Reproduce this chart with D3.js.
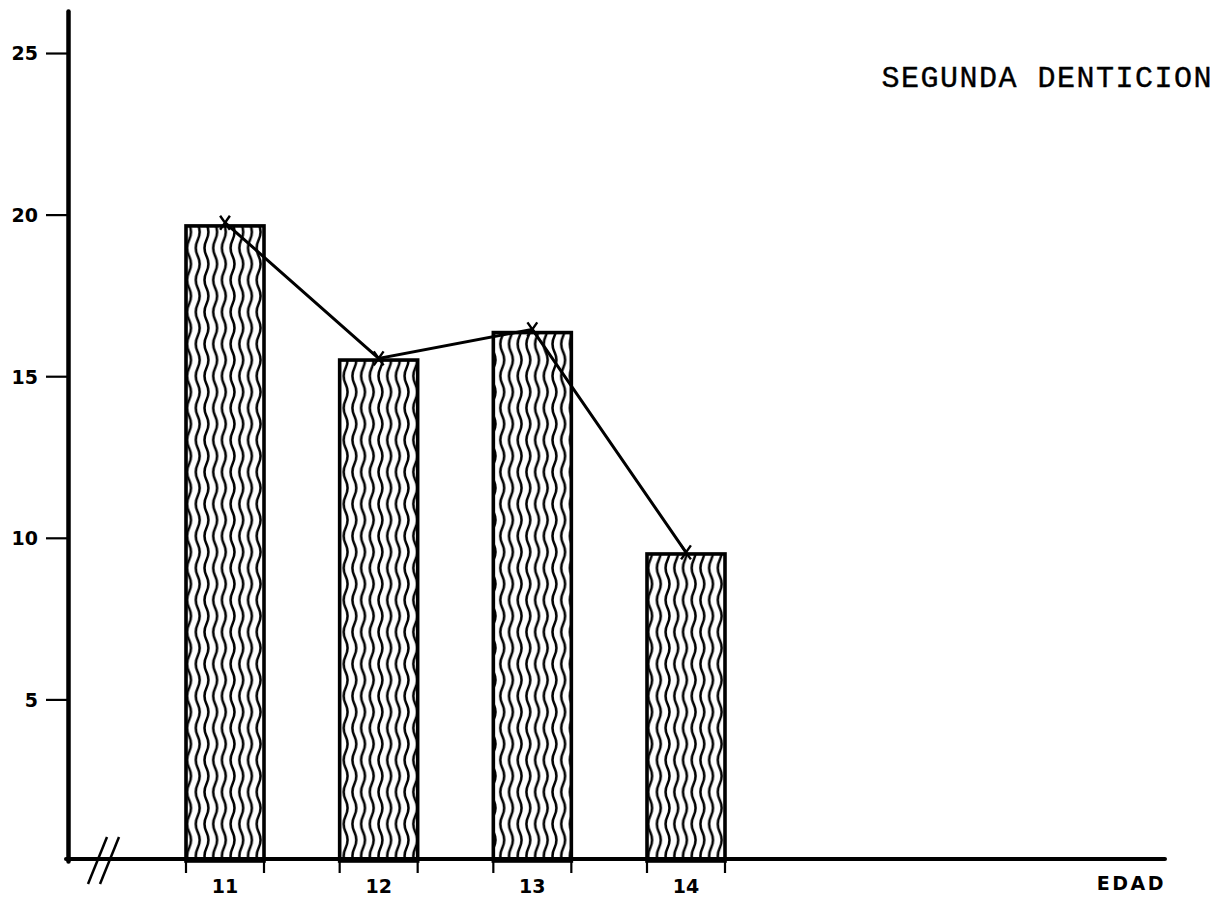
<!doctype html>
<html>
  <head>
    <meta charset="utf-8">
    <title>Segunda denticion</title>
    <script src="https://cdnjs.cloudflare.com/ajax/libs/d3/7.8.5/d3.min.js"></script>
    <style>
      body { margin: 0; background: #fff; }
      .tick text { font-family: "DejaVu Sans", sans-serif; font-weight: bold; }
    </style>
  </head>
  <body>
    <div id="chart"></div>
    <script>
      // data
      const ages = [11, 12, 13, 14];
      const barValues = [19.65, 15.5, 16.35, 9.5];
      const lineValues = [19.75, 15.55, 16.45, 9.55];
      const yTicks = [5, 10, 15, 20, 25];
      const title = 'SEGUNDA DENTICION';
      const xLabel = 'EDAD';

      const W = 1227, H = 897;
      const svg = d3.select('#chart').append('svg')
        .attr('width', W).attr('height', H);

      const y = d3.scaleLinear().domain([0, 26.3]).range([861, 11]);
      const x = d3.scaleLinear().domain([11, 14]).range([225, 686]);
      const barW = 78;
      const axisX = 68;

      // wavy hatch, one wave per tile
      const pw = 8.7, ph = 32, cx0 = pw / 2, a = 2.6;
      let wd = `M${cx0},${-ph}`;
      for (let k = -1; k < 2; k++) {
        const y0 = k * ph;
        wd += `C${cx0 + a},${y0 + ph / 6} ${cx0 + a},${y0 + ph / 3} ${cx0},${y0 + ph / 2}`;
        wd += `C${cx0 - a},${y0 + ph * 2 / 3} ${cx0 - a},${y0 + ph * 5 / 6} ${cx0},${y0 + ph}`;
      }
      const pat = svg.append('defs').append('pattern')
        .attr('id', 'wave')
        .attr('patternUnits', 'userSpaceOnUse')
        .attr('x', 2)
        .attr('width', pw).attr('height', ph);
      pat.append('path')
        .attr('d', wd)
        .attr('fill', 'none').attr('stroke', '#000').attr('stroke-width', 2.5);

      // bars
      svg.selectAll('rect.bar')
        .data(ages)
        .join('rect')
        .attr('class', 'bar')
        .attr('x', d => x(d) - barW / 2)
        .attr('y', (d, i) => y(barValues[i]))
        .attr('width', barW)
        .attr('height', (d, i) => y(0) - y(barValues[i]))
        .attr('fill', 'url(#wave)')
        .attr('stroke', '#000')
        .attr('stroke-width', 3.6);

      // y axis
      const yAxis = svg.append('g')
        .attr('transform', `translate(${axisX},0)`)
        .call(d3.axisLeft(y).tickValues(yTicks).tickSize(22).tickSizeOuter(0).tickPadding(8));
      yAxis.select('.domain').attr('stroke-width', 4.5).attr('stroke-linecap', 'round');
      yAxis.selectAll('.tick line').attr('stroke-width', 2.2);
      yAxis.selectAll('.tick text').attr('font-size', 19).attr('dy', '0.36em');

      // x axis baseline
      svg.append('line')
        .attr('x1', axisX - 2).attr('x2', 1165)
        .attr('y1', y(0) - 2).attr('y2', y(0) - 2)
        .attr('stroke', '#000').attr('stroke-width', 4).attr('stroke-linecap', 'round');

      // ticks at bar edges
      const edges = ages.flatMap(a => [x(a) - barW / 2, x(a) + barW / 2]);
      svg.selectAll('line.xt')
        .data(edges)
        .join('line')
        .attr('class', 'xt')
        .attr('x1', d => d).attr('x2', d => d)
        .attr('y1', y(0) - 2).attr('y2', y(0) + 12)
        .attr('stroke', '#000').attr('stroke-width', 2.2);

      svg.selectAll('text.xl')
        .data(ages)
        .join('text')
        .attr('class', 'xl')
        .attr('x', d => x(d))
        .attr('y', 893)
        .attr('text-anchor', 'middle')
        .attr('font-family', 'DejaVu Sans, sans-serif')
        .attr('font-weight', 'bold')
        .attr('font-size', 19)
        .text(d => d);

      svg.append('text')
        .attr('x', 1166).attr('y', 890)
        .attr('text-anchor', 'end')
        .attr('font-family', 'DejaVu Sans, sans-serif')
        .attr('font-weight', 'bold')
        .attr('font-size', 19)
        .attr('letter-spacing', 2.5)
        .text(xLabel);

      // axis break mark
      svg.selectAll('line.brk')
        .data([0, 12])
        .join('line')
        .attr('class', 'brk')
        .attr('x1', d => 88 + d).attr('y1', 884)
        .attr('x2', d => 107 + d).attr('y2', 837)
        .attr('stroke', '#000').attr('stroke-width', 2.5);

      // line with x markers
      const line = d3.line()
        .x((d, i) => x(ages[i]))
        .y(d => y(d));
      svg.append('path')
        .datum(lineValues)
        .attr('d', line)
        .attr('fill', 'none')
        .attr('stroke', '#000')
        .attr('stroke-width', 3);

      const s = 7;
      svg.selectAll('path.mk')
        .data(lineValues)
        .join('path')
        .attr('class', 'mk')
        .attr('d', (d, i) => {
          const cx = x(ages[i]), cy = y(d);
          return `M${cx - s * 0.7},${cy - s}L${cx + s * 0.7},${cy + s}M${cx + s * 0.7},${cy - s}L${cx - s * 0.7},${cy + s}`;
        })
        .attr('stroke', '#000').attr('stroke-width', 2.4);

      svg.append('text')
        .attr('x', 1213).attr('y', 87)
        .attr('text-anchor', 'end')
        .attr('font-family', 'Liberation Mono, monospace')
        .attr('font-size', 30)
        .attr('letter-spacing', 1.5)
        .attr('stroke', '#000')
        .attr('stroke-width', 0.4)
        .text(title);
    </script>
  </body>
</html>
